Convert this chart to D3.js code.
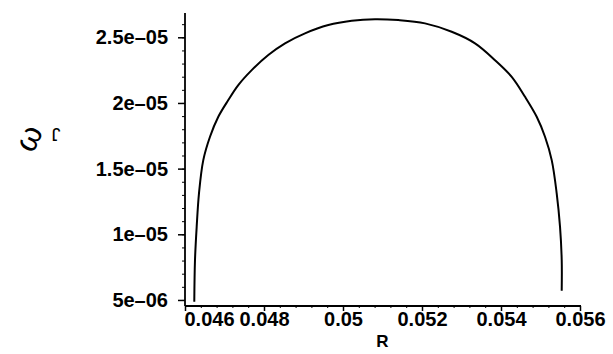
<!DOCTYPE html>
<html>
<head>
<meta charset="utf-8">
<script src="https://cdn.jsdelivr.net/npm/d3@7"></script>
<style>
  body { margin: 0; background: #fff; }
  svg text { font-family: "Liberation Sans", Arial, sans-serif; }
</style>
</head>
<body>
<div id="chart"></div>
<script>
// curve: R vs omega
const rValues = [0.046235, 0.046253, 0.046296, 0.046354, 0.046463, 0.046633, 0.046843, 0.047096,
  0.047349, 0.047689, 0.048109, 0.048532, 0.049038, 0.049628, 0.05022, 0.05081,
  0.0514, 0.052076, 0.052752, 0.053342, 0.053848, 0.054271, 0.054608, 0.054904,
  0.055114, 0.055284, 0.05541, 0.055494, 0.055537, 0.055537];
const wValues = [4.87e-6, 8.04e-6, 10.58e-6, 13.12e-6, 15.65e-6, 17.43e-6, 18.95e-6, 20.22e-6,
  21.36e-6, 22.5e-6, 23.65e-6, 24.54e-6, 25.3e-6, 25.93e-6, 26.26e-6, 26.38e-6,
  26.31e-6, 26.06e-6, 25.42e-6, 24.54e-6, 23.26e-6, 21.99e-6, 20.47e-6, 18.95e-6,
  17.43e-6, 15.65e-6, 13.12e-6, 10.58e-6, 8.04e-6, 5.7e-6];

const xTicks = [0.046, 0.048, 0.05, 0.052, 0.054, 0.056];
const xTickLabels = ["0.046", "0.048", "0.05", "0.052", "0.054", "0.056"];
const yTicks = [5e-6, 1e-5, 1.5e-5, 2e-5, 2.5e-5];
const yTickLabels = ["5e\u201306", "1e\u201305", "1.5e\u201305", "2e\u201305", "2.5e\u201305"];

const width = 613, height = 354;
const margin = { top: 13, right: 32, bottom: 48, left: 185 };

const svg = d3.select("#chart").append("svg")
  .attr("width", width)
  .attr("height", height);

const x = d3.scaleLinear()
  .domain([0.046, 0.056])
  .range([margin.left, width - margin.right - 1]);

const y = d3.scaleLinear()
  .domain([4.54e-6, 2.685e-5])
  .range([height - margin.bottom, margin.top]);

// x axis
const xAxis = svg.append("g")
  .attr("transform", `translate(0,${y.range()[0]})`)
  .call(d3.axisBottom(x).tickValues(xTicks).tickSize(5).tickFormat((d, i) => xTickLabels[i]));
xAxis.select(".domain").attr("stroke-width", 1.8).attr("d", `M${x.range()[0]},0H${x.range()[1] + 1}`);
xAxis.selectAll(".tick line").attr("stroke-width", 1.5);
xAxis.selectAll(".tick text")
  .attr("font-size", 20)
  .attr("font-weight", "bold")
  .attr("dy", "0.62em")
  .attr("y", 8);
// first label is pushed right off the y axis
xAxis.selectAll(".tick text").filter((d, i) => i === 0)
  .attr("text-anchor", "start")
  .attr("x", -1);

// small ticks on x
svg.append("g")
  .attr("transform", `translate(0,${y.range()[0]})`)
  .call(d3.axisBottom(x).tickValues(d3.range(0.0464, 0.0559, 0.0004)).tickSize(2).tickFormat(""))
  .call(g => g.select(".domain").remove());

// y axis
const yAxis = svg.append("g")
  .attr("transform", `translate(${margin.left},0)`)
  .call(d3.axisLeft(y).tickValues(yTicks).tickSize(7).tickFormat((d, i) => yTickLabels[i]));
yAxis.select(".domain").attr("stroke-width", 1.8).attr("d", `M0,${y.range()[0]}V${y.range()[1]}`);
yAxis.selectAll(".tick line").attr("stroke-width", 1.5);
yAxis.selectAll(".tick text")
  .attr("font-size", 20)
  .attr("font-weight", "bold")
  .attr("x", -17);

svg.append("g")
  .attr("transform", `translate(${margin.left},0)`)
  .call(d3.axisLeft(y).tickValues(d3.range(5e-6, 2.65e-5, 1e-6)).tickSize(3).tickFormat(""))
  .call(g => g.select(".domain").remove());

// axis titles
svg.append("text")
  .attr("x", (x.range()[0] + x.range()[1]) / 2)
  .attr("y", 347)
  .attr("text-anchor", "middle")
  .attr("font-size", 17)
  .attr("font-weight", "bold")
  .text("R");

svg.append("text")
  .attr("transform", "translate(28,138) rotate(-65)")
  .attr("text-anchor", "middle")
  .attr("dy", "0.35em")
  .attr("font-size", 32)
  .text("\u03c9");
svg.append("text")
  .attr("transform", "translate(56,134) rotate(180)")
  .attr("text-anchor", "middle")
  .attr("dy", "0.35em")
  .attr("font-size", 18)
  .text("J");

// curve
const points = rValues.map((r, i) => [r, wValues[i]]);
svg.append("path")
  .datum(points)
  .attr("fill", "none")
  .attr("stroke", "#000")
  .attr("stroke-width", 2)
  .attr("d", d3.line()
    .x(d => x(d[0]))
    .y(d => y(d[1]))
    .curve(d3.curveCatmullRom));
</script>
</body>
</html>
